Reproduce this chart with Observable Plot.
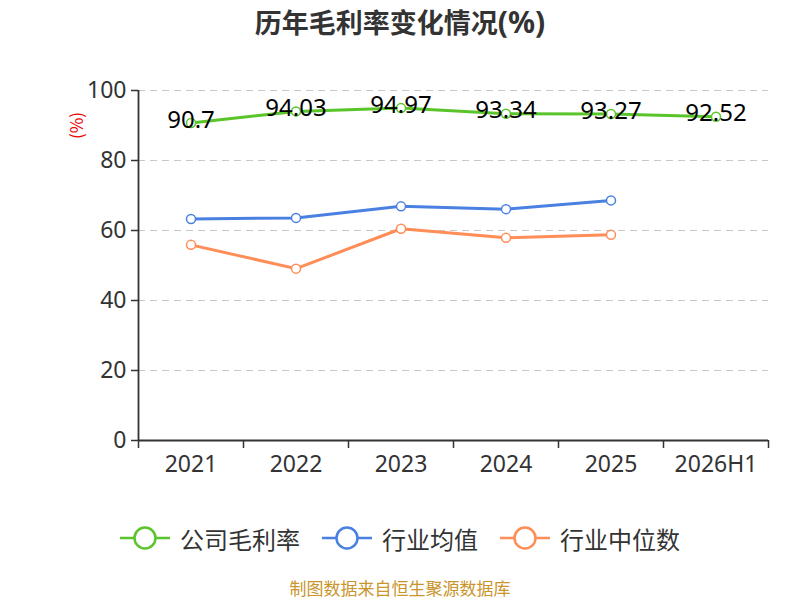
<!DOCTYPE html>
<html>
<head>
<meta charset="utf-8">
<script src="https://cdn.jsdelivr.net/npm/d3@7"></script>
<script src="https://cdn.jsdelivr.net/npm/@observablehq/plot@0.6"></script>
<style>
  body { margin:0; width:800px; height:600px; position:relative; background:#fff; font-family:"Noto Sans CJK SC","Noto Sans",sans-serif; overflow:hidden; }
  #title { position:absolute; left:0; top:0; width:800px; height:44px; line-height:44px; text-align:center; font-size:27px; font-weight:bold; color:#333; }
  #title span { font-family:"Noto Sans",sans-serif; font-size:30px; }
  #chart { position:absolute; left:0; top:44px; }
  #unit { position:absolute; left:62px; top:113px; color:#e00; font-size:17px; transform:rotate(-90deg); transform-origin:center; }
  #legend { position:absolute; left:0; top:515px; width:800px; height:46px; display:flex; justify-content:center; align-items:center; gap:22px; font-size:24px; color:#333; }
  .item { display:flex; align-items:center; gap:10px; }
  .item svg { display:block; }
  #caption { position:absolute; left:0; top:578px; width:800px; height:20px; line-height:20px; text-align:center; font-size:17px; color:#c9952c; }
</style>
</head>
<body>
<div id="title">历年毛利率变化情况<span>(%)</span></div>
<div id="chart"></div>
<div id="unit">(%)</div>
<div id="legend"></div>
<div id="caption">制图数据来自恒生聚源数据库</div>
<script>
const categories = ["2021","2022","2023","2024","2025","2026H1"];
const companyMargin = [90.7, 94.03, 94.97, 93.34, 93.27, 92.52];
const industryAvg = [63.3, 63.6, 66.9, 66.1, 68.6];
const industryMedian = [55.9, 49.1, 60.5, 57.9, 58.8];
const seriesNames = ["公司毛利率","行业均值","行业中位数"];
const colors = ["#5ac52a","#4a80e2","#ff8d57"];
const yTicks = [0,20,40,60,80,100];

const toRows = (vals, name) => vals.map((v,i)=>({pos:i+0.5, cat:categories[i], v, name}));
const rowsC = toRows(companyMargin, seriesNames[0]);
const rowsA = toRows(industryAvg, seriesNames[1]);
const rowsM = toRows(industryMedian, seriesNames[2]);

const boundaries = d3.range(categories.length+1);
const centers = categories.map((c,i)=>i+0.5);
const numFont = '"Noto Sans",sans-serif';

const plot = Plot.plot({
  width: 800,
  height: 470,
  marginLeft: 138,
  marginRight: 32,
  marginTop: 46,
  marginBottom: 74,
  style: {fontFamily:numFont, background:"transparent"},
  x: {type:"linear", domain:[0, categories.length], axis:null},
  y: {domain:[0,100], axis:null},
  marks: [
    Plot.ruleY(yTicks.filter(d=>d>0), {stroke:"#c8c8c8", strokeDasharray:"7,5", strokeWidth:1.2}),
    Plot.axisY({ticks:yTicks, label:null, tickSize:7, tickPadding:5, fontSize:23, color:"#333", tickFormat:d=>d, stroke:"#333", strokeWidth:1.5}),
    Plot.ruleX([0], {y1:0, y2:100, stroke:"#333", strokeWidth:1.8}),
    Plot.ruleY([0], {stroke:"#333", strokeWidth:1.8}),
    Plot.axisX({ticks:boundaries, label:null, tickSize:8, tickFormat:()=>"", stroke:"#333", strokeWidth:1.5}),
    Plot.axisX({ticks:centers, label:null, tickSize:0, tickPadding:15, fontSize:23, color:"#333", tickFormat:d=>categories[Math.round(d-0.5)]}),
    Plot.line(rowsC, {x:"pos", y:"v", stroke:colors[0], strokeWidth:3}),
    Plot.line(rowsA, {x:"pos", y:"v", stroke:colors[1], strokeWidth:3}),
    Plot.line(rowsM, {x:"pos", y:"v", stroke:colors[2], strokeWidth:3}),
    Plot.dot(rowsC, {x:"pos", y:"v", r:4.5, fill:"#fff", stroke:colors[0], strokeWidth:1.5}),
    Plot.dot(rowsA, {x:"pos", y:"v", r:4.5, fill:"#fff", stroke:colors[1], strokeWidth:1.5}),
    Plot.dot(rowsM, {x:"pos", y:"v", r:4.5, fill:"#fff", stroke:colors[2], strokeWidth:1.5}),
    Plot.text(rowsC, {x:"pos", y:"v", text:d=>String(d.v), fontSize:24, fill:"#000", dy:-3})
  ]
});
document.getElementById("chart").appendChild(plot);

const legend = document.getElementById("legend");
seriesNames.forEach((n,i)=>{
  const it = document.createElement("div");
  it.className = "item";
  it.innerHTML = `<svg width="50" height="26"><line x1="0" y1="13" x2="50" y2="13" stroke="${colors[i]}" stroke-width="2.5"/><circle cx="25" cy="13" r="10.5" fill="#fff" stroke="${colors[i]}" stroke-width="2.5"/></svg><span>${n}</span>`;
  legend.appendChild(it);
});
</script>
</body>
</html>
